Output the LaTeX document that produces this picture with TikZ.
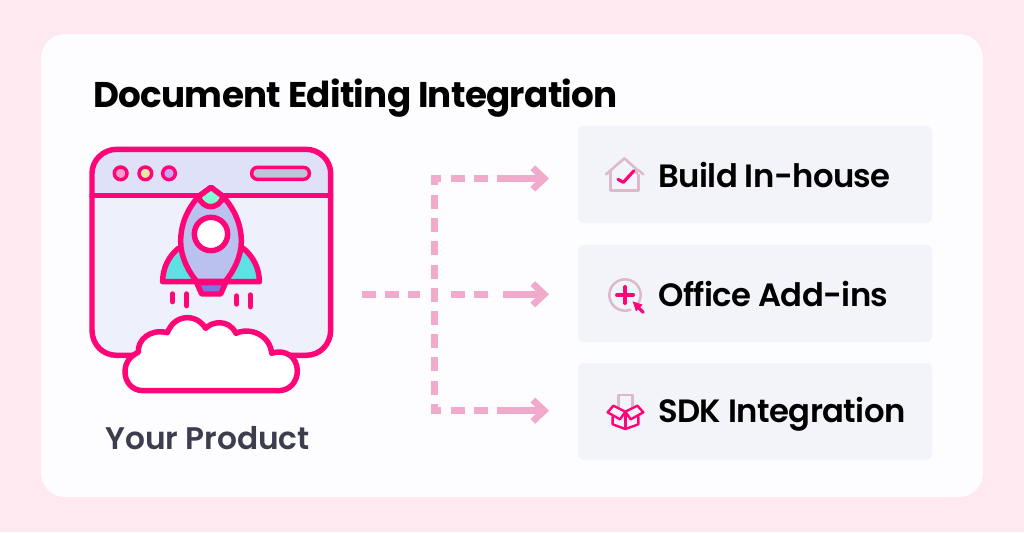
\documentclass[tikz,border=0pt]{standalone}
\usepackage{fontspec}
\setmainfont{Poppins}
\newfontfamily\semib[LetterSpace=-1.8]{Poppins SemiBold}
\newfontfamily\prodf{Poppins SemiBold}
\newfontfamily\boldf[LetterSpace=-2.0]{Poppins Bold}
\usetikzlibrary{arrows.meta}
\definecolor{bgpink}{HTML}{FFE9F1}
\definecolor{cardc}{HTML}{FDFCFE}
\definecolor{rowc}{HTML}{F3F4FA}
\definecolor{hot}{HTML}{FF0577}
\definecolor{dashc}{HTML}{F0AACB}
\definecolor{soft}{HTML}{DDB9CB}
\definecolor{inkc}{HTML}{3C3E4E}
\definecolor{winc}{HTML}{EEF1FB}
\definecolor{barc}{HTML}{DFE1F9}
\definecolor{bodyc}{HTML}{BBC1EE}
\definecolor{finc}{HTML}{5FE0E5}
\definecolor{nosec}{HTML}{7FFFD4}
\definecolor{nozc}{HTML}{7878E8}
\definecolor{dota}{HTML}{FF9CCB}
\definecolor{dotb}{HTML}{E2EBA0}
\definecolor{dotc}{HTML}{C9A5F5}
\definecolor{pillc}{HTML}{C2C3D8}
\tikzset{
  rowbox/.style={draw=none,fill=rowc,rounded corners=4.5pt,minimum width=265.5pt,minimum height=72.75pt,inner sep=0pt},
  rowtext/.style={anchor=base west,inner sep=0pt,font=\semib\fontsize{24.2}{28}\selectfont,text=black},
  dashline/.style={draw=dashc,line width=5.6pt,dash pattern=on 10.5pt off 6.9pt},
  solidline/.style={draw=dashc,line width=5.6pt},
  arrowline/.style={draw=dashc,line width=5.6pt,-{Straight Barb[length=8.5pt,width=16pt,line width=5pt]}},
  ink/.style={draw=hot,line width=4.1pt,line join=round,line cap=round},
  thinink/.style={draw=hot,line width=2.6pt},
  softline/.style={draw=soft,line width=1.9pt,line join=round,line cap=round},
  hotline/.style={draw=hot,line width=1.8pt,line join=round,line cap=round},
  hotthick/.style={draw=hot,line width=2.4pt,line join=round,line cap=round},
}
\begin{document}
\begin{tikzpicture}[x=0.75pt,y=-0.75pt]
\useasboundingbox (0,0) rectangle (1024,532);
\fill[bgpink] (0,0) rectangle (1024,532);
\fill[cardc,rounded corners=18pt] (41,34) rectangle (983,497);

\node[anchor=base west,inner sep=0pt,font=\boldf\fontsize{26.8}{32}\selectfont,text=black] (title) at (93,107) {Document Editing Integration};

\node[rowbox] (b1) at (755,174.5) {};
\node[rowbox] (b2) at (755,293.5) {};
\node[rowbox] (b3) at (755,411.5) {};
\node[rowtext] (t1) at (658,187) {Build In-house};
\node[rowtext] (t2) at (658,306) {Office Add-ins};
\node[rowtext] (t3) at (658,422) {SDK Integration};
\node[anchor=base west,inner sep=0pt,font=\prodf\fontsize{23.4}{28}\selectfont,text=inkc] (prod) at (105,449) {Your Product};

% connectors
\coordinate (src) at (362,294.3);
\coordinate (topc) at (434.7,178.5);
\coordinate (botc) at (434.7,410.7);
\coordinate (a1) at (549,178.5);
\coordinate (a2) at (549,294.3);
\coordinate (a3) at (549,410.7);
\draw[dashline] (src) -- (420,294.3);
\draw[dashline] (434.7,195) -- (434.7,396);
\draw[solidline] (441,178.5) -- (topc) -- (434.7,185);
\draw[solidline] (434.7,404) -- (botc) -- (441,410.7);
\draw[dashline] (451,178.5) -- (489,178.5);
\draw[dashline] (451,294.3) -- (489,294.3);
\draw[dashline] (451,410.7) -- (489,410.7);
\draw[arrowline] (497,178.5) -- (a1);
\draw[arrowline] (503,294.3) -- (a2);
\draw[arrowline] (497,410.7) -- (a3);

% window and rocket
\begin{scope}[shift={(80,140)},x=0.25pt,y=-0.25pt]
\fill[winc] (36,100) .. controls (36,60) and (70,28) .. (110,28) -- (678,28) .. controls (718,28) and (752,60) .. (752,100) -- (752,570) .. controls (752,615) and (718,646) .. (678,646) -- (110,646) .. controls (70,646) and (36,615) .. (36,570) -- cycle;
\fill[barc] (36,167) -- (36,100) .. controls (36,60) and (70,28) .. (110,28) -- (678,28) .. controls (718,28) and (752,60) .. (752,100) -- (752,167) -- cycle;
\draw[ink] (36,100) .. controls (36,60) and (70,28) .. (110,28) -- (678,28) .. controls (718,28) and (752,60) .. (752,100) -- (752,570) .. controls (752,615) and (718,646) .. (678,646) -- (110,646) .. controls (70,646) and (36,615) .. (36,570) -- cycle;
\draw[ink] (36,167) -- (752,167);
\draw[thinink,fill=dota] (122,100) circle (19);
\draw[thinink,fill=dotb] (196,100) circle (19);
\draw[thinink,fill=dotc] (267,100) circle (19);
\draw[thinink,fill=pillc,rounded corners=4.4pt] (515,82) rectangle (688,118);
% fins
\draw[ink,fill=finc] (295,325) .. controls (265,350) and (248,385) .. (248,425) -- (538,425) .. controls (538,385) and (520,350) .. (490,325) -- cycle;
% body
\draw[ink,fill=bodyc] (393,142) -- (355,170) .. controls (320,210) and (302,255) .. (302,305) .. controls (302,350) and (325,395) .. (350,424) -- (436,424) .. controls (460,395) and (484,350) .. (484,305) .. controls (484,255) and (465,210) .. (430,170) -- cycle;
% nose
\draw[ink,fill=nosec] (393,142) -- (355,170) .. controls (370,210) and (415,210) .. (430,170) -- cycle;
% porthole
\draw[ink,fill=white] (393,282) circle (50);
% nozzle
\draw[ink,fill=nozc] (350,428) -- (365,462) -- (422,462) -- (437,428) -- cycle;
\draw[ink] (248,425) -- (538,425);
% exhaust
\draw[ink] (278,462) -- (278,485);
\draw[ink] (320,462) -- (320,497);
\draw[ink] (470,468) -- (470,492);
\draw[ink] (511,465) -- (511,500);
% cloud
\draw[ink,fill=white] (190,752) .. controls (155,752) and (135,725) .. (135,695) .. controls (135,665) and (155,645) .. (175,637) .. controls (172,600) and (210,565) .. (262,578) .. controls (275,545) and (300,533) .. (322,533) .. controls (350,533) and (368,550) .. (377,565) .. controls (395,545) and (445,535) .. (468,580) .. controls (510,560) and (570,585) .. (575,640) .. controls (620,625) and (652,655) .. (652,692) .. controls (652,725) and (630,752) .. (595,752) -- cycle;
\end{scope}

% house icon
\begin{scope}[shift={(590,140)},x=0.25pt,y=-0.25pt]
\draw[softline] (48,103) -- (103,55) -- (140,88) -- (140,100);
\draw[softline] (145,90) -- (160,103);
\draw[softline] (62,92) -- (62,152) -- (145,152) -- (145,104);
\draw[hotthick] (84,118) -- (100,127) -- (132,92);
\end{scope}
% add icon
\begin{scope}[shift={(590,260)},x=0.25pt,y=-0.25pt]
\draw[softline] (105,105)++(70:47) arc[start angle=70,end angle=395,radius=47];
\draw[hotthick] (105,80) -- (105,130) (80,105) -- (130,105);
\fill[hot] (128,124) -- (158,134) -- (138,154) -- cycle;
\draw[hotthick] (140,138) -- (160,157);
\end{scope}
% box icon
\begin{scope}[shift={(590,380)},x=0.25pt,y=-0.25pt]
\draw[softline] (85,82) -- (85,45) -- (128,45) -- (128,82);
\draw[hotline] (53,97) -- (70,77) -- (106,95) -- (90,118) -- cycle;
\draw[hotline] (106,95) -- (142,77) -- (160,97) -- (122,118) -- cycle;
\draw[hotline] (68,110) -- (68,133) -- (106,147) -- (145,133) -- (145,110);
\draw[hotline] (106,97) -- (106,147);
\end{scope}
\end{tikzpicture}
\end{document}
